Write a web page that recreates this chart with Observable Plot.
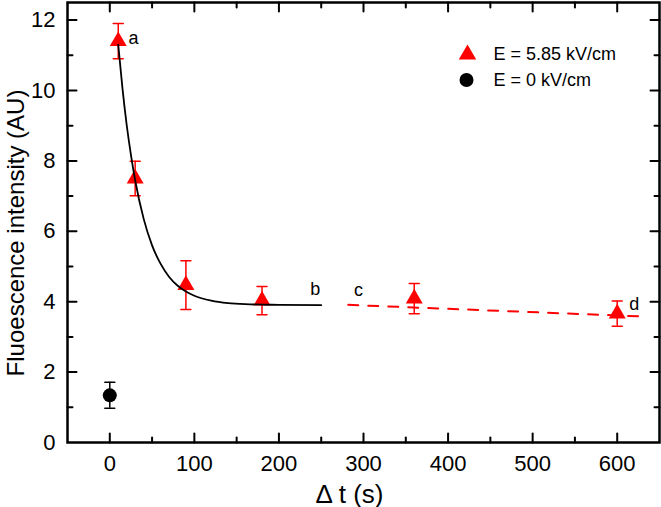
<!DOCTYPE html>
<html>
<head>
<meta charset="utf-8">
<script src="https://cdn.jsdelivr.net/npm/d3@7"></script>
<script src="https://cdn.jsdelivr.net/npm/@observablehq/plot@0.6"></script>
<style>
  html, body { margin: 0; padding: 0; background: #fff; }
  #chart svg { display: block; }
</style>
</head>
<body>
<div id="chart"></div>
<script>
// ---- data ----
const fieldT = [10, 30, 90, 180, 360, 600];                 // Δt (s), E = 5.85 kV/cm
const fieldY = [11.40, 7.50, 4.47, 4.03, 4.09, 3.66];      // fluorescence (AU)
const fieldErr = [0.50, 0.49, 0.69, 0.40, 0.43, 0.36];

const zeroT = [0];                                          // E = 0 kV/cm
const zeroY = [1.34];
const zeroErr = [0.37];

// fitted decay curve (black)
const fitT = [10, 15, 20, 25, 30, 40, 50, 60, 70, 80, 90, 100, 120, 140, 160, 200, 250];
const fitY = [11.30, 10.06, 9.02, 8.17, 7.45, 6.36, 5.60, 5.08, 4.71, 4.46, 4.29, 4.17, 4.03, 3.96, 3.93, 3.91, 3.90];

// dashed red trend line
const dashT = [282, 630];
const dashY = [3.91, 3.58];

// annotation letters
const noteLabels = ["a", "b", "c", "d"];
const noteT = [28, 243, 294, 620];
const noteY = [11.48, 4.34, 4.32, 3.94];

// axis ticks
const xMajor = [0, 100, 200, 300, 400, 500, 600];
const xMinor = [50, 150, 250, 350, 450, 550];
const yMajor = [0, 2, 4, 6, 8, 10, 12];
const yMinor = [1, 3, 5, 7, 9, 11];

const legendLabels = ["E = 5.85 kV/cm", "E = 0 kV/cm"];
const xTitle = "Δ t (s)";
const yTitle = "Fluoescence intensity (AU)";

// ---- build tables ----
const field = fieldT.map((t, i) => ({t, y: fieldY[i], lo: fieldY[i] - fieldErr[i], hi: fieldY[i] + fieldErr[i]}));
const zero = zeroT.map((t, i) => ({t, y: zeroY[i], lo: zeroY[i] - zeroErr[i], hi: zeroY[i] + zeroErr[i]}));
const fit = fitT.map((t, i) => ({t, y: fitY[i]}));
const dash = dashT.map((t, i) => ({t, y: dashY[i]}));
const notes = noteLabels.map((s, i) => ({s, t: noteT[i], y: noteY[i]}));

const RED = "#ff0000";
const FONT = "Liberation Sans, Arial, Helvetica, sans-serif";
const line = {draw(ctx, l) { ctx.moveTo(0, 0); ctx.lineTo(0, -l); }};

const tickMarks = (vals, anchor, rot, len) =>
  Plot.vector(vals, {
    ...(anchor === "bottom" || anchor === "top" ? {x: d => d} : {y: d => d}),
    frameAnchor: anchor, rotate: rot, length: len, anchor: "start",
    shape: line, stroke: "black", strokeWidth: 2
  });

const capMarks = (data, color, key) =>
  Plot.vector(data, {x: "t", y: key, rotate: 90, length: 10, anchor: "middle",
    shape: line, stroke: color, strokeWidth: 1.5});

const chart = Plot.plot({
  width: 661,
  height: 507,
  marginLeft: 67,
  marginRight: 2,
  marginTop: 2,
  marginBottom: 65,
  style: {fontFamily: FONT, background: "#fff", color: "black"},
  x: {domain: [-50, 650]},
  y: {domain: [0, 12.5]},
  marks: [
    // axis labels (text)
    Plot.axisX(xMajor, {tickSize: 0, tickPadding: 13, fontSize: 22, label: null}),
    Plot.axisY(yMajor, {tickSize: 0, tickPadding: 12, fontSize: 22, label: null}),
    // inward ticks on all four sides
    tickMarks(xMajor, "bottom", 0, 9),
    tickMarks(xMinor, "bottom", 0, 5),
    tickMarks(xMajor, "top", 180, 9),
    tickMarks(xMinor, "top", 180, 5),
    tickMarks(yMajor.slice(1), "left", 90, 9),
    tickMarks(yMinor, "left", 90, 5),
    tickMarks(yMajor.slice(1), "right", -90, 9),
    tickMarks(yMinor, "right", -90, 5),
    Plot.frame({stroke: "black", strokeWidth: 2.5}),

    // error bars
    Plot.ruleX(field, {x: "t", y1: "lo", y2: "hi", stroke: RED, strokeWidth: 1.5}),
    capMarks(field, RED, "lo"),
    capMarks(field, RED, "hi"),
    Plot.ruleX(zero, {x: "t", y1: "lo", y2: "hi", stroke: "black", strokeWidth: 1.5}),
    capMarks(zero, "black", "lo"),
    capMarks(zero, "black", "hi"),

    // markers
    Plot.dot(field, {x: "t", y: "y", symbol: "triangle", r: 6.3, fill: RED, stroke: "none"}),
    Plot.dot(zero, {x: "t", y: "y", symbol: "circle", r: 7, fill: "black", stroke: "none"}),

    // lines
    Plot.line(fit, {x: "t", y: "y", curve: "monotone-x", stroke: "black", strokeWidth: 1.8}),
    Plot.line(dash, {x: "t", y: "y", stroke: RED, strokeWidth: 2, strokeDasharray: "10,10"}),

    // annotations
    Plot.text(notes, {x: "t", y: "y", text: "s", fontSize: 18, fill: "black", textAnchor: "middle", lineAnchor: "middle"}),

    // legend
    Plot.dot([legendLabels[0]], {frameAnchor: "top-left", dx: 400, dy: 52, symbol: "triangle", r: 6.5, fill: RED, stroke: "none"}),
    Plot.dot([legendLabels[1]], {frameAnchor: "top-left", dx: 399, dy: 77.5, symbol: "circle", r: 7, fill: "black", stroke: "none"}),
    Plot.text([legendLabels[0]], {frameAnchor: "top-left", dx: 426, dy: 52, text: d => d, fontSize: 18, textAnchor: "start", lineAnchor: "middle", fill: "black"}),
    Plot.text([legendLabels[1]], {frameAnchor: "top-left", dx: 426, dy: 77.5, text: d => d, fontSize: 18, textAnchor: "start", lineAnchor: "middle", fill: "black"}),

    // axis titles
    Plot.text([xTitle], {frameAnchor: "bottom", dx: -14, dy: 60, text: d => d, fontSize: 26, lineAnchor: "bottom", textAnchor: "middle", fill: "black", ariaLabel: "xtitle"}),
    Plot.text([yTitle], {frameAnchor: "left", dx: -44, dy: 10.5, rotate: -90, text: d => d, fontSize: 24, lineAnchor: "bottom", textAnchor: "middle", fill: "black", ariaLabel: "ytitle"})
  ]
});

document.getElementById("chart").appendChild(chart);

// italic "t" in the x title
d3.select(chart).selectAll('g[aria-label="xtitle"] text').each(function() {
  const el = d3.select(this);
  el.text(null);
  el.append("tspan").text("Δ ");
  el.append("tspan").attr("font-style", "italic").text("t");
  el.append("tspan").text(" (s)");
});
// slight letter spacing so the y title spans about the same length as in the reference
d3.select(chart).selectAll('g[aria-label="ytitle"] text').attr("letter-spacing", "1px");
</script>
</body>
</html>
